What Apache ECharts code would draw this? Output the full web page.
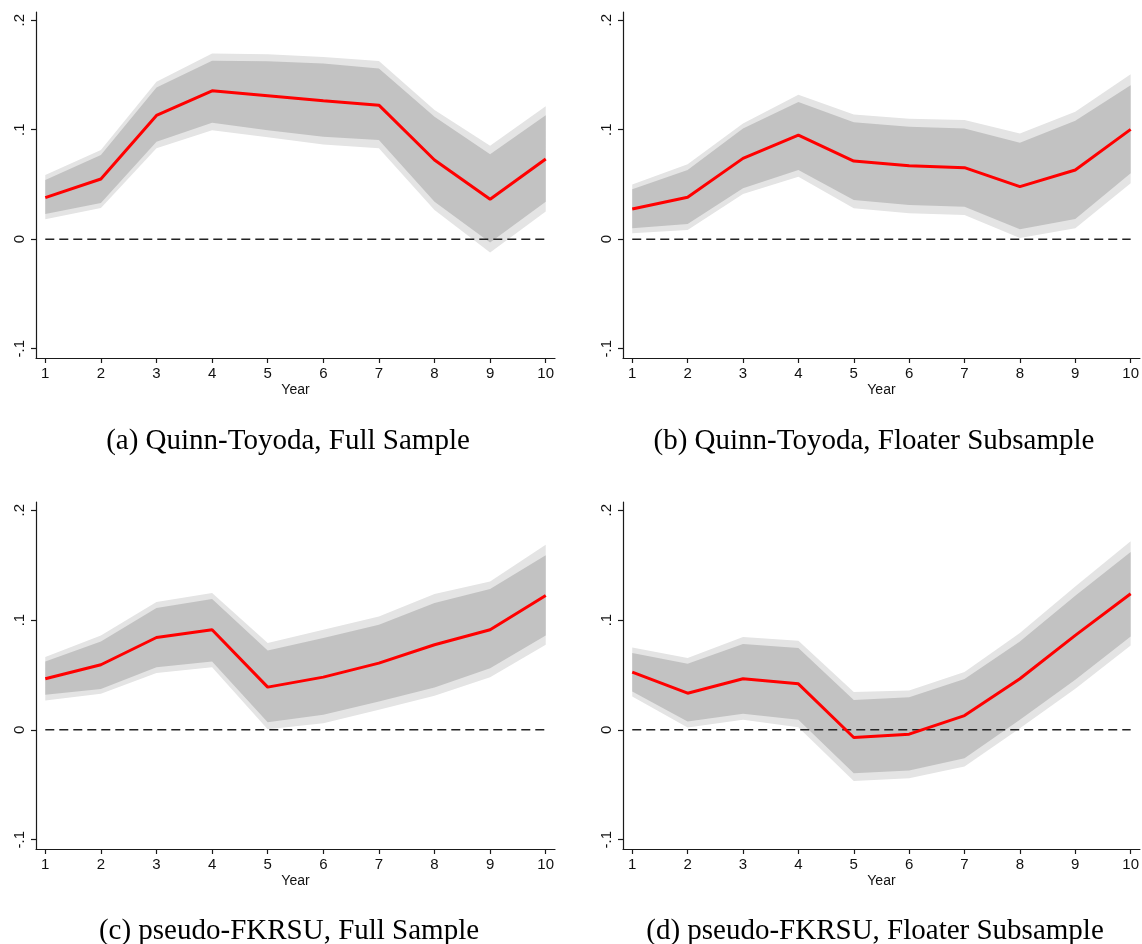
<!DOCTYPE html>
<html>
<head>
<meta charset="utf-8">
<title>Impulse responses by year</title>
<script src="https://cdn.jsdelivr.net/npm/echarts@6/dist/echarts.min.js"></script>
<style>
  html, body { margin: 0; padding: 0; background: #fff; }
  #chart { width: 1142px; height: 944px; }
</style>
</head>
<body>
<div id="chart"></div>
<script>
// Horizon (years after the event)
const years = [1, 2, 3, 4, 5, 6, 7, 8, 9, 10];
const yTicks = [-0.1, 0, 0.1, 0.2];
const zeroRef = [0, 0, 0, 0, 0, 0, 0, 0, 0, 0];

// (a) Quinn-Toyoda, full sample
const qtFullEst  = [0.038, 0.055, 0.113, 0.1355, 0.131, 0.1264, 0.1224, 0.0723, 0.0365, 0.0732];
const qtFullHi68 = [0.054, 0.0768, 0.1385, 0.163, 0.1625, 0.1604, 0.156, 0.1118, 0.0775, 0.1133];
const qtFullLo68 = [0.023, 0.033, 0.089, 0.1063, 0.0995, 0.0935, 0.0905, 0.0343, -0.0031, 0.0343];
const qtFullHi90 = [0.0586, 0.0814, 0.1437, 0.1696, 0.169, 0.1665, 0.1628, 0.1179, 0.0853, 0.1215];
const qtFullLo90 = [0.0183, 0.0285, 0.083, 0.0996, 0.093, 0.0866, 0.083, 0.0267, -0.0122, 0.0252];

// (b) Quinn-Toyoda, floater subsample
const qtFloatEst  = [0.0276, 0.0383, 0.0738, 0.0951, 0.0714, 0.0671, 0.0653, 0.048, 0.0632, 0.1003];
const qtFloatHi68 = [0.0456, 0.0632, 0.1012, 0.1254, 0.1067, 0.1026, 0.1012, 0.088, 0.1081, 0.1407];
const qtFloatLo68 = [0.010, 0.0139, 0.0465, 0.0632, 0.0358, 0.0313, 0.0297, 0.0091, 0.0185, 0.0602];
const qtFloatHi90 = [0.050, 0.0684, 0.1057, 0.132, 0.114, 0.110, 0.1088, 0.0966, 0.1163, 0.1507];
const qtFloatLo90 = [0.0055, 0.0085, 0.0413, 0.057, 0.0283, 0.0237, 0.0222, 0.001, 0.010, 0.051];

// (c) pseudo-FKRSU, full sample
const fkFullEst  = [0.0465, 0.0593, 0.0841, 0.0912, 0.0389, 0.048, 0.0608, 0.0775, 0.0912, 0.1224];
const fkFullHi68 = [0.0623, 0.0805, 0.1109, 0.1191, 0.0723, 0.0836, 0.0957, 0.1155, 0.1283, 0.1589];
const fkFullLo68 = [0.0319, 0.0371, 0.0571, 0.0623, 0.007, 0.0137, 0.0258, 0.0386, 0.0562, 0.086];
const fkFullHi90 = [0.0663, 0.086, 0.1164, 0.1246, 0.079, 0.0912, 0.1033, 0.1237, 0.1352, 0.1686];
const fkFullLo90 = [0.0267, 0.0328, 0.0517, 0.0571, 0.0006, 0.0061, 0.0182, 0.031, 0.048, 0.0775];

// (d) pseudo-FKRSU, floater subsample
const fkFloatEst  = [0.0526, 0.0334, 0.0465, 0.0419, -0.007, -0.0039, 0.013, 0.0465, 0.086, 0.124];
const fkFloatHi68 = [0.0699, 0.0602, 0.0781, 0.0745, 0.0273, 0.0298, 0.0462, 0.0805, 0.1222, 0.1619];
const fkFloatLo68 = [0.0349, 0.0076, 0.0146, 0.0091, -0.0395, -0.0371, -0.0258, 0.0091, 0.0456, 0.085];
const fkFloatHi90 = [0.075, 0.0654, 0.0845, 0.0811, 0.0344, 0.0358, 0.0526, 0.0881, 0.1306, 0.1717];
const fkFloatLo90 = [0.0304, 0.0021, 0.0091, 0.0024, -0.0465, -0.044, -0.0334, 0.0015, 0.0374, 0.0768];

const panelTitles = [
  '(a) Quinn-Toyoda, Full Sample',
  '(b) Quinn-Toyoda, Floater Subsample',
  '(c) pseudo-FKRSU, Full Sample',
  '(d) pseudo-FKRSU, Floater Subsample'
];

const panels = [
  { est: qtFullEst,  hi68: qtFullHi68,  lo68: qtFullLo68,  hi90: qtFullHi90,  lo90: qtFullLo90 },
  { est: qtFloatEst, hi68: qtFloatHi68, lo68: qtFloatLo68, hi90: qtFloatHi90, lo90: qtFloatLo90 },
  { est: fkFullEst,  hi68: fkFullHi68,  lo68: fkFullLo68,  hi90: fkFullHi90,  lo90: fkFullLo90 },
  { est: fkFloatEst, hi68: fkFloatHi68, lo68: fkFloatLo68, hi90: fkFloatHi90, lo90: fkFloatLo90 }
];

// plot-area placement of the four panels (pixels)
const grids = [
  { left: 36,  top: 12,  width: 519, height: 346 },
  { left: 623, top: 12,  width: 519, height: 346 },
  { left: 36,  top: 502, width: 519, height: 347 },
  { left: 623, top: 502, width: 519, height: 347 }
];
const titlePos = [
  { x: 288, y: 426 },
  { x: 874, y: 426 },
  { x: 289, y: 916 },
  { x: 875, y: 916 }
];

const axisColor = '#1a1a1a';
const tickFont = { fontFamily: 'Liberation Sans', fontSize: 15, color: '#111' };

function fmtY(v) {
  if (Math.abs(v) < 1e-9) return '0';
  const s = Math.abs(v).toFixed(1).replace(/^0/, '');
  return (v < 0 ? '-' : '') + s;
}

// shaded confidence band drawn as a single polygon in data coordinates
function bandSeries(idx, lo, hi, color) {
  return {
    type: 'custom',
    xAxisIndex: idx,
    yAxisIndex: idx,
    silent: true,
    z: 1,
    data: years.map((y, i) => [y, lo[i], hi[i]]),
    encode: { x: 0, y: [1, 2] },
    renderItem: function (params, api) {
      if (params.dataIndex !== 0) return null;
      const pts = [];
      for (let i = 0; i < years.length; i++) pts.push(api.coord([years[i], hi[i]]));
      for (let i = years.length - 1; i >= 0; i--) pts.push(api.coord([years[i], lo[i]]));
      return {
        type: 'polygon',
        shape: { points: pts },
        style: { fill: color, stroke: null }
      };
    }
  };
}

const option = {
  animation: false,
  backgroundColor: '#ffffff',
  title: panelTitles.map((t, i) => ({
    text: t,
    left: titlePos[i].x,
    top: titlePos[i].y,
    textAlign: 'center',
    padding: 0,
    textStyle: {
      fontFamily: 'Liberation Serif',
      fontWeight: 'normal',
      fontSize: 29,
      lineHeight: 30,
      color: '#000'
    }
  })),
  grid: grids.map(g => Object.assign({ containLabel: false }, g)),
  xAxis: grids.map((g, i) => ({
    type: 'value',
    gridIndex: i,
    min: 0.833,
    max: 10.167,
    name: 'Year',
    nameLocation: 'middle',
    nameGap: 25,
    nameTextStyle: { fontFamily: 'Liberation Sans', fontSize: 14, color: '#111' },
    splitLine: { show: false },
    axisLine: { show: true, onZero: false, lineStyle: { color: axisColor, width: 1.2 } },
    axisTick: { show: true, length: 5, customValues: years, lineStyle: { color: axisColor, width: 1.2 } },
    axisLabel: Object.assign({ margin: 8, customValues: years, formatter: v => String(v) }, tickFont)
  })),
  yAxis: grids.map((g, i) => ({
    type: 'value',
    gridIndex: i,
    min: -0.1085,
    max: 0.2075,
    splitLine: { show: false },
    axisLine: { show: true, onZero: false, lineStyle: { color: axisColor, width: 1.2 } },
    axisTick: { show: true, length: 5, customValues: yTicks, lineStyle: { color: axisColor, width: 1.2 } },
    axisLabel: Object.assign({ margin: 9, rotate: 90, customValues: yTicks, formatter: fmtY }, tickFont)
  })),
  series: []
};

panels.forEach((p, i) => {
  option.series.push(bandSeries(i, p.lo90, p.hi90, '#e4e4e4'));
  option.series.push(bandSeries(i, p.lo68, p.hi68, '#c2c2c2'));
  option.series.push({
    type: 'line',
    xAxisIndex: i,
    yAxisIndex: i,
    silent: true,
    z: 3,
    symbol: 'none',
    data: years.map((y, k) => [y, zeroRef[k]]),
    lineStyle: { color: '#222', width: 1.5, type: [9, 5] }
  });
  option.series.push({
    type: 'line',
    xAxisIndex: i,
    yAxisIndex: i,
    silent: true,
    z: 4,
    symbol: 'none',
    data: years.map((y, k) => [y, p.est[k]]),
    lineStyle: { color: '#ff0000', width: 3 }
  });
});

const chart = echarts.init(document.getElementById('chart'), null, { renderer: 'canvas' });
chart.setOption(option);
</script>
</body>
</html>
